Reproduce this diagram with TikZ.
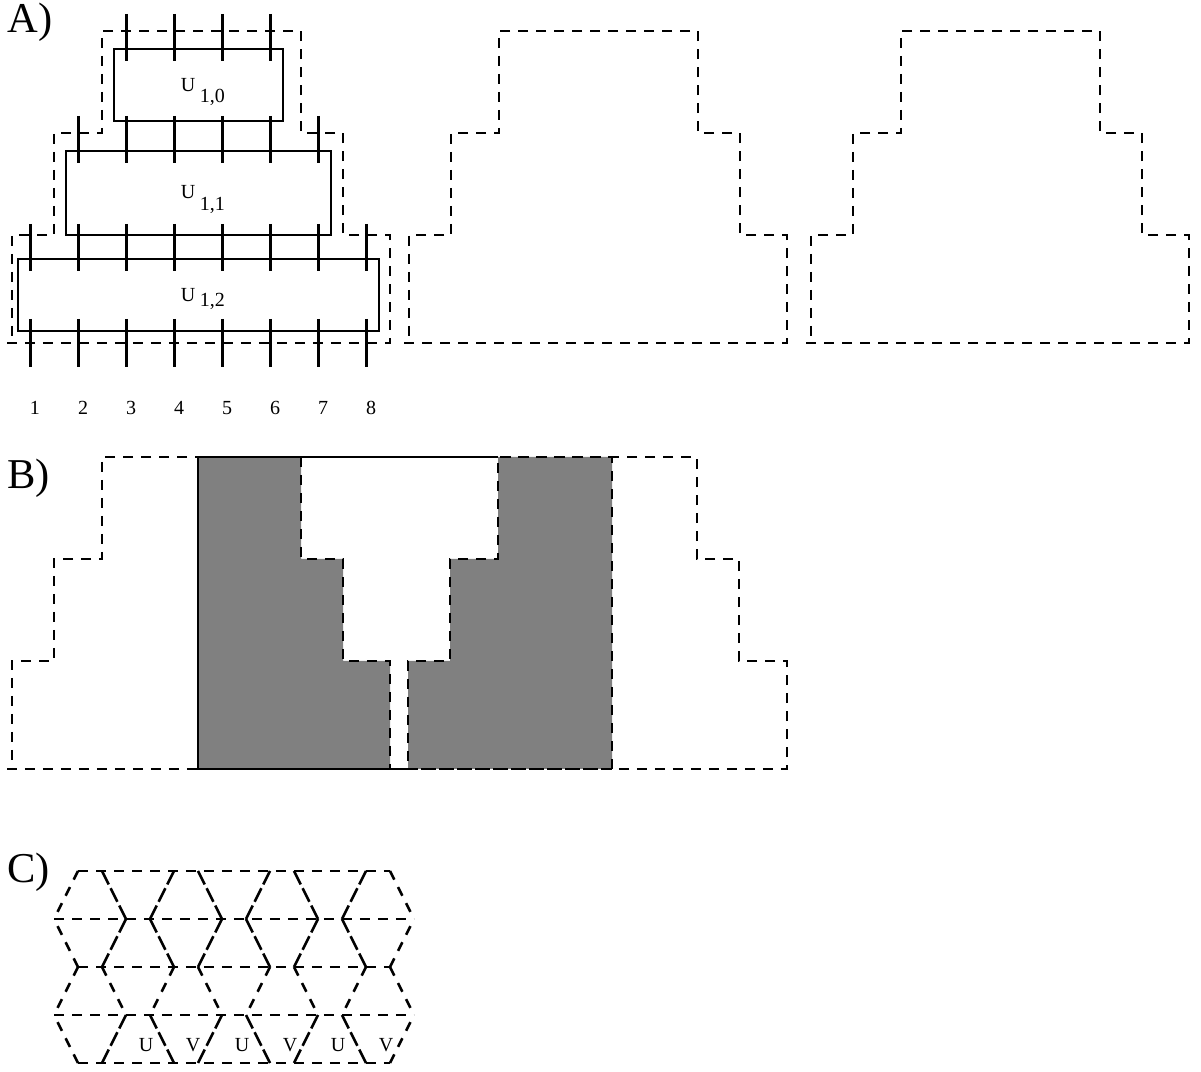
\documentclass[tikz,border=0pt]{standalone}
\usepackage{fontspec}
\setmainfont{Liberation Serif}
\definecolor{fillgray}{HTML}{808080}
\tikzset{
  solidline/.style={line width=1.5pt,black},
  dashline/.style={line width=1.5pt,black,dash pattern=on 5.8pt off 5pt},
  longdash/.style={line width=1.6pt,black,dash pattern=on 9pt off 2.6pt},
  lab/.style={anchor=base,inner sep=0pt,font=\fontsize{12}{14}\selectfont},
  panel/.style={anchor=base west,inner sep=0pt,font=\fontsize{25.5}{28}\selectfont},
}
\begin{document}
\begin{tikzpicture}[x=0.6pt,y=-0.6pt]
\useasboundingbox (0,0) rectangle (1201,1072);
% A: outlines
\foreach \d in {0,397,799}{
  \begin{scope}[xshift=\d*0.6pt]
  \draw[dashline] (7,343) -- (390,343) -- (390,235) -- (343,235) -- (343,133) -- (301,133) -- (301,31) -- (102,31) -- (102,133) -- (54,133) -- (54,235) -- (12,235) -- (12,343);
  \end{scope}
}
% A: boxes
\draw[solidline] (114,49) rectangle (283,121);
\draw[solidline] (66,151) rectangle (331,235);
\draw[solidline] (18,259) rectangle (379,331);
% A: ticks
\foreach \x in {126.3,174.3,222.3,270.3}{
  \draw[solidline] (\x,14) -- (\x,61);
}
\foreach \x in {78.3,126.3,174.3,222.3,270.3,318.3}{
  \draw[solidline] (\x,116) -- (\x,163);
}
\foreach \x in {30.3,78.3,126.3,174.3,222.3,270.3,318.3,366.3}{
  \draw[solidline] (\x,224) -- (\x,271);
  \draw[solidline] (\x,319) -- (\x,367);
}
\foreach \x/\t in {35/1,83/2,131/3,179/4,227/5,275/6,323/7,371/8}{
  \node[lab] at (\x,415) {\t};
}
\foreach \y/\s/\sy in {92/0/103,199/1/211,302/2/307}{
  \node[lab] at (188,\y) {U};
  \node[lab,anchor=base west] at (199.5,\sy) {1,\s};
}
\node[panel] at (7,33) {A)};
\node[panel] at (7,489) {B)};
\node[panel] at (7,883) {C)};
% B
\fill[fillgray] (198,457) -- (301,457) -- (301,559) -- (343,559) -- (343,661) -- (390,661) -- (390,769) -- (198,769) -- cycle;
\fill[fillgray] (612,457) -- (498,457) -- (498,559) -- (450,559) -- (450,661) -- (408,661) -- (408,769) -- (612,769) -- cycle;
\draw[dashline] (7,769) -- (787,769) -- (787,661) -- (739,661) -- (739,559) -- (697,559) -- (697,457) -- (102,457) -- (102,559) -- (54,559) -- (54,661) -- (12,661) -- (12,769);
\draw[solidline] (498,457) -- (198,457) -- (198,769) -- (408,769);
\draw[dashline] (301,457) -- (301,559) -- (343,559) -- (343,661) -- (390,661) -- (390,769);
\draw[dashline] (612,769) -- (612,457) -- (498,457) -- (498,559) -- (450,559) -- (450,661) -- (408,661) -- (408,769) -- (612,769);
% C
\foreach \y in {871,967,1063}{
  \draw[dashline] (78,\y) -- (390,\y);
}
\foreach \y in {919,1015}{
  \draw[dashline] (54,\y) -- (414,\y);
}
% C: short-dash diagonals
\foreach \xa/\xb in {78/54,390/414}{
  \foreach \ya/\yb in {871/919,967/919,967/1015,1063/1015}{
    \draw[dashline] (\xa,\ya) -- (\xb,\yb);
  }
}
\foreach \xa/\xb in {102/126,174/150,198/222,270/246,294/318,366/342}{
  \draw[dashline] (\xa,967) -- (\xb,1015);
}
% C: heavier diagonals
\foreach \xa/\xb in {102/126,174/150,198/222,270/246,294/318,366/342}{
  \draw[longdash] (\xa,871) -- (\xb,919);
  \draw[longdash] (\xa,967) -- (\xb,919);
  \draw[longdash] (\xa,1063) -- (\xb,1015);
}
\foreach \x in {146,242,338}{ \node[lab] at (\x,1051) {U}; }
\foreach \x in {193,290,386}{ \node[lab] at (\x,1051) {V}; }
\end{tikzpicture}
\end{document}
